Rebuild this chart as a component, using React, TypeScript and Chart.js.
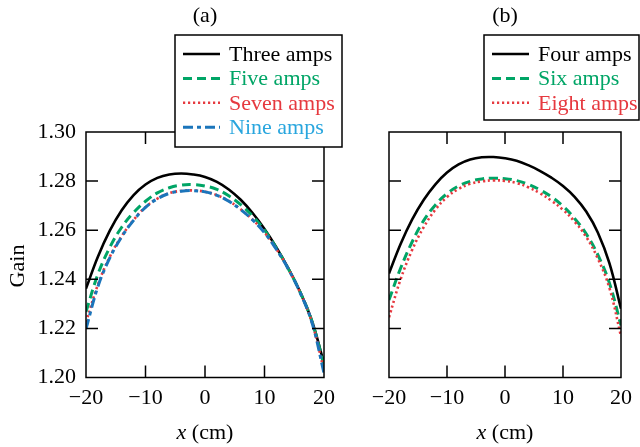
import React, { useEffect, useRef } from 'react';
import { Chart, registerables } from 'chart.js';

Chart.register(...registerables);

// ---------- data ----------
const xPositions = [-20, -18, -16, -14, -12, -10, -8, -6, -4, -2, 0, 2, 4, 6, 8, 10, 12, 14, 16, 18, 20];

// panel (a)
const threeAmps = [1.2362, 1.2492, 1.2598, 1.2681, 1.2743, 1.2786, 1.2813, 1.2827, 1.2831, 1.2827, 1.2817, 1.2797, 1.2766, 1.2724, 1.2670, 1.2605, 1.2530, 1.2445, 1.2348, 1.2228, 1.2058];
const fiveAmps = [1.2268, 1.2420, 1.2530, 1.2612, 1.2672, 1.2718, 1.2752, 1.2773, 1.2784, 1.2786, 1.2780, 1.2766, 1.2740, 1.2704, 1.2658, 1.2600, 1.2527, 1.2443, 1.2347, 1.2227, 1.2050];
const sevenAmps = [1.2225, 1.2378, 1.2492, 1.2576, 1.2642, 1.2694, 1.2729, 1.2751, 1.2760, 1.2762, 1.2757, 1.2743, 1.2719, 1.2685, 1.2643, 1.2591, 1.2523, 1.2443, 1.2346, 1.2223, 1.2028];
const nineAmps = [1.2198, 1.2370, 1.2487, 1.2573, 1.2640, 1.2693, 1.2728, 1.2750, 1.2759, 1.2761, 1.2756, 1.2742, 1.2718, 1.2684, 1.2642, 1.2590, 1.2522, 1.2442, 1.2345, 1.2222, 1.2018];

// panel (b)
const fourAmps = [1.2424, 1.2544, 1.2644, 1.2724, 1.2787, 1.2835, 1.2868, 1.2888, 1.2897, 1.2898, 1.2893, 1.2883, 1.2865, 1.2842, 1.2814, 1.2780, 1.2736, 1.2676, 1.2591, 1.2466, 1.2280];
const sixAmps = [1.2316, 1.2445, 1.2553, 1.2640, 1.2703, 1.2749, 1.2780, 1.2799, 1.2809, 1.2812, 1.2810, 1.2802, 1.2787, 1.2765, 1.2736, 1.2698, 1.2648, 1.2585, 1.2500, 1.2385, 1.2212];
const eightAmps = [1.2245, 1.2400, 1.2520, 1.2613, 1.2684, 1.2735, 1.2768, 1.2789, 1.2799, 1.2803, 1.2801, 1.2792, 1.2775, 1.2751, 1.2720, 1.2683, 1.2635, 1.2573, 1.2485, 1.2365, 1.2168];

const labelsA = ['Three amps', 'Five amps', 'Seven amps', 'Nine amps'];
const labelsB = ['Four amps', 'Six amps', 'Eight amps'];
const panelTitles = ['(a)', '(b)'];
const yAxisTitle = 'Gain';
const xAxisVar = 'x';
const xAxisUnit = ' (cm)';
const xMin = -20;
const xMax = 20;
const xStep = 10;
const yMin = 1.2;
const yMax = 1.3;
const yStep = 0.02;

// ---------- styles ----------
const FONT = '"Liberation Serif", "Times New Roman", serif';
const FS = 22;
const BLACK = '#000000';
const GREEN = '#00a566';
const RED = '#e6393f';
const BLUE = '#1b75bb';
const BLUE_TEXT = '#29a6de';

const styleSolid = { color: BLACK, text: BLACK, dash: [] as number[], width: 2.6 };
const styleDash = { color: GREEN, text: GREEN, dash: [9, 5], width: 3 };
const styleDot = { color: RED, text: RED, dash: [2.2, 2.8], width: 2.6 };
const styleDashDot = { color: BLUE, text: BLUE_TEXT, dash: [10, 4, 4, 4], width: 3 };

function makeDataset(label: string, ys: number[], st: any, order: number) {
  return {
    label,
    data: xPositions.map((x, i) => ({ x, y: ys[i] })),
    borderColor: st.color,
    backgroundColor: st.color,
    borderWidth: st.width,
    borderDash: st.dash,
    pointRadius: 0,
    fill: false,
    tension: 0.4,
    order,
    legendText: st.text,
  };
}

const decorPlugin = {
  id: 'decor',
  afterDraw(chart: any, _args: any, opts: any) {
    const { ctx, chartArea: ca, scales } = chart;
    ctx.save();
    // frame
    ctx.strokeStyle = BLACK;
    ctx.lineWidth = 1.5;
    ctx.setLineDash([]);
    ctx.strokeRect(ca.left, ca.top, ca.right - ca.left, ca.bottom - ca.top);
    // inward ticks
    const tl = 12;
    ctx.beginPath();
    for (const t of scales.x.ticks) {
      if (t.value <= xMin || t.value >= xMax) continue;
      const px = scales.x.getPixelForValue(t.value);
      ctx.moveTo(px, ca.bottom);
      ctx.lineTo(px, ca.bottom - tl);
      ctx.moveTo(px, ca.top);
      ctx.lineTo(px, ca.top + tl);
    }
    for (const t of scales.y.ticks) {
      if (t.value <= yMin + 1e-9 || t.value >= yMax - 1e-9) continue;
      const py = scales.y.getPixelForValue(t.value);
      ctx.moveTo(ca.left, py);
      ctx.lineTo(ca.left + tl, py);
      ctx.moveTo(ca.right, py);
      ctx.lineTo(ca.right - tl, py);
    }
    ctx.stroke();

    // panel title
    const cx = (ca.left + ca.right) / 2;
    ctx.fillStyle = BLACK;
    ctx.font = `${FS}px ${FONT}`;
    ctx.textAlign = 'center';
    ctx.textBaseline = 'middle';
    ctx.fillText(opts.title, cx, 16);

    // x axis title: italic x + (cm)
    ctx.textBaseline = 'alphabetic';
    ctx.textAlign = 'left';
    ctx.font = `italic ${FS}px ${FONT}`;
    const w1 = ctx.measureText(xAxisVar).width;
    ctx.font = `${FS}px ${FONT}`;
    const w2 = ctx.measureText(xAxisUnit).width;
    const sx = cx - (w1 + w2) / 2;
    ctx.font = `italic ${FS}px ${FONT}`;
    ctx.fillText(xAxisVar, sx, 439);
    ctx.font = `${FS}px ${FONT}`;
    ctx.fillText(xAxisUnit, sx + w1, 439);

    // y axis title
    if (opts.showYTitle) {
      ctx.save();
      ctx.translate(18, 266);
      ctx.rotate(-Math.PI / 2);
      ctx.textAlign = 'center';
      ctx.textBaseline = 'middle';
      ctx.fillText(yAxisTitle, 0, 0);
      ctx.restore();
    }

    // legend
    const lb = opts.legend;
    ctx.fillStyle = '#ffffff';
    ctx.fillRect(lb.x, lb.y, lb.w, lb.h);
    ctx.strokeStyle = BLACK;
    ctx.lineWidth = 1.5;
    ctx.strokeRect(lb.x, lb.y, lb.w, lb.h);
    chart.data.datasets.forEach((ds: any, i: number) => {
      const ry = lb.rowY + i * lb.rowGap;
      ctx.beginPath();
      ctx.strokeStyle = ds.borderColor;
      ctx.lineWidth = ds.borderWidth;
      ctx.setLineDash(ds.borderDash || []);
      ctx.moveTo(lb.x + 8, ry);
      ctx.lineTo(lb.x + 45, ry);
      ctx.stroke();
      ctx.setLineDash([]);
      ctx.fillStyle = ds.legendText;
      ctx.font = `${FS}px ${FONT}`;
      ctx.textAlign = 'left';
      ctx.textBaseline = 'middle';
      ctx.fillText(ds.label, lb.x + 54, ry + 1);
    });
    ctx.restore();
  },
};

function makeConfig(datasets: any[], panel: any) {
  return {
    type: 'line',
    data: { datasets },
    options: {
      responsive: false,
      animation: false,
      devicePixelRatio: 1,
      events: [],
      layout: { padding: panel.padding },
      plugins: {
        legend: { display: false },
        tooltip: { enabled: false },
        title: { display: false },
        decor: panel.decor,
      },
      scales: {
        x: {
          type: 'linear',
          min: xMin,
          max: xMax,
          grid: { display: false, drawTicks: false },
          border: { display: false },
          ticks: {
            stepSize: xStep,
            color: BLACK,
            font: { family: FONT, size: FS },
            padding: 8,
            maxRotation: 0,
            autoSkip: false,
            callback: (v: number) => (v < 0 ? '\u2212' + Math.abs(v) : String(v)),
          },
          afterFit: (s: any) => {
            s.height = 69.5;
          },
        },
        y: {
          type: 'linear',
          min: yMin,
          max: yMax,
          grid: { display: false, drawTicks: false },
          border: { display: false },
          ticks: {
            display: panel.showYLabels,
            stepSize: yStep,
            color: BLACK,
            font: { family: FONT, size: FS },
            padding: 10,
            callback: (v: number) => v.toFixed(2),
          },
          afterFit: (s: any) => {
            s.width = panel.yWidth;
          },
        },
      },
    },
    plugins: [decorPlugin],
  };
}

export default function App() {
  const refA = useRef<HTMLCanvasElement>(null);
  const refB = useRef<HTMLCanvasElement>(null);

  useEffect(() => {
    const dsA = [
      makeDataset(labelsA[0], threeAmps, styleSolid, 4),
      makeDataset(labelsA[1], fiveAmps, styleDash, 3),
      makeDataset(labelsA[2], sevenAmps, styleDot, 2),
      makeDataset(labelsA[3], nineAmps, styleDashDot, 1),
    ];
    const dsB = [
      makeDataset(labelsB[0], fourAmps, styleSolid, 3),
      makeDataset(labelsB[1], sixAmps, styleDash, 2),
      makeDataset(labelsB[2], eightAmps, styleDot, 1),
    ];
    const chartA = new Chart(
      refA.current as HTMLCanvasElement,
      makeConfig(dsA, {
        padding: { left: 0, top: 132, right: 316, bottom: 0 },
        yWidth: 86,
        showYLabels: true,
        decor: {
          title: panelTitles[0],
          showYTitle: true,
          legend: { x: 175, y: 35, w: 167, h: 112, rowY: 54, rowGap: 24.4 },
        },
      }) as any
    );
    const chartB = new Chart(
      refB.current as HTMLCanvasElement,
      makeConfig(dsB, {
        padding: { left: 389, top: 132, right: 13, bottom: 0 },
        yWidth: 0,
        showYLabels: false,
        decor: {
          title: panelTitles[1],
          showYTitle: false,
          legend: { x: 484, y: 35, w: 155, h: 85, rowY: 54, rowGap: 24.4 },
        },
      }) as any
    );
    return () => {
      chartA.destroy();
      chartB.destroy();
    };
  }, []);

  const cs: React.CSSProperties = { position: 'absolute', left: 0, top: 0, width: 640, height: 447 };
  return (
    <div style={{ position: 'fixed', left: 0, top: 0, width: 640, height: 447, background: '#ffffff' }}>
      <canvas ref={refA} width={640} height={447} style={cs} />
      <canvas ref={refB} width={640} height={447} style={cs} />
    </div>
  );
}
